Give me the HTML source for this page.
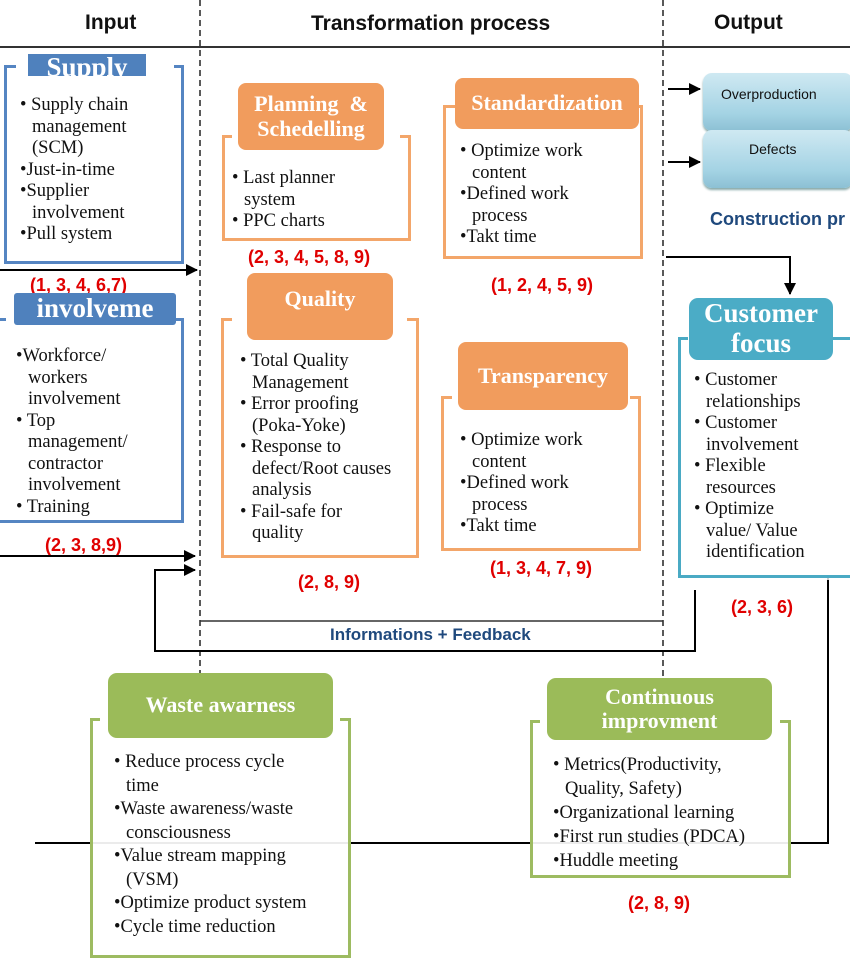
<!DOCTYPE html>
<html><head><meta charset="utf-8">
<style>
*{margin:0;padding:0;box-sizing:border-box}
body{width:850px;height:952px;position:relative;background:#fff;overflow:hidden;font-family:"Liberation Serif",serif}
.a{position:absolute}
.h{font-family:"Liberation Sans",sans-serif;font-weight:bold;font-size:21px;color:#111}
.red{font-family:"Liberation Sans",sans-serif;font-weight:bold;font-size:18px;color:#e00000;white-space:nowrap}
.t{font-size:18.5px;line-height:21.5px;color:#111;white-space:nowrap}
.t p{padding-left:16px;text-indent:-12px}
.blue{border:3px solid #5585c2}
.org{border:3px solid #f3a66a}
.grn{border:3px solid #9dbb61}
.teal{border:3px solid #4aaac4}
.tab{color:#fff;font-weight:bold;text-align:center;display:flex;align-items:center;justify-content:center;line-height:1.1}
.ot{background:#f19c5d;border-radius:8px;font-size:22px}
.gt{background:#9bbb59;border-radius:9px;font-size:22px}
.tt{background:#4bacc6;border-radius:9px;font-size:27px}
.bt{background:#4f81bd;font-size:27px;overflow:hidden}
</style></head><body>
<svg class="a" style="left:0;top:0" width="850" height="952">
<defs><marker id="ar" markerWidth="12" markerHeight="12" refX="11" refY="6" orient="auto" markerUnits="userSpaceOnUse"><path d="M0,0L12,6L0,12z" fill="#000"/></marker></defs>
<line x1="0" y1="47" x2="850" y2="47" stroke="#333" stroke-width="2"/>
<line x1="200" y1="0" x2="200" y2="690" stroke="#222" stroke-width="1.5" stroke-dasharray="6,4"/>
<line x1="663" y1="0" x2="663" y2="690" stroke="#222" stroke-width="1.5" stroke-dasharray="6,4"/>
<line x1="200" y1="621" x2="663" y2="621" stroke="#333" stroke-width="1.5"/>
<line x1="0" y1="270" x2="197" y2="270" stroke="#000" stroke-width="2" marker-end="url(#ar)"/>
<line x1="0" y1="556" x2="195" y2="556" stroke="#000" stroke-width="2" marker-end="url(#ar)"/>
<polyline points="695,590 695,651 155,651 155,570 195,570" fill="none" stroke="#000" stroke-width="2" marker-end="url(#ar)"/>
<line x1="668" y1="89" x2="700" y2="89" stroke="#000" stroke-width="2" marker-end="url(#ar)"/>
<line x1="668" y1="162" x2="700" y2="162" stroke="#000" stroke-width="2" marker-end="url(#ar)"/>
<polyline points="666,257 790,257 790,294" fill="none" stroke="#000" stroke-width="2" marker-end="url(#ar)"/>
<polyline points="35,843 828,843 828,580" fill="none" stroke="#000" stroke-width="2"/>
<line x1="828" y1="580" x2="828" y2="546" stroke="#ccc" stroke-width="2"/>
<path d="M823,552L828,542L833,552z" fill="#ddd"/>
</svg>
<div class="a h" style="left:85px;top:11px">Input</div>
<div class="a h" style="left:311px;top:12px">Transformation process</div>
<div class="a h" style="left:714px;top:11px">Output</div>

<!-- Supply -->
<div class="a blue" style="left:4px;top:65px;width:180px;height:199px;background:#fff"></div>
<div class="a" style="left:16px;top:60px;width:158px;height:10px;background:#fff"></div>
<div class="a tab bt" style="left:28px;top:54px;width:118px;height:22px"><span style="margin-top:6px">Supply</span></div>
<div class="a t" style="left:16px;top:95px">
<p>• Supply chain<br>management<br>(SCM)</p><p>•Just-in-time</p><p>•Supplier<br>involvement</p><p>•Pull system</p></div>
<div class="a red" style="left:30px;top:275px">(1, 3, 4, 6,7)</div>

<!-- Involvement -->
<div class="a blue" style="left:-3px;top:318px;width:187px;height:205px;background:#fff"></div>
<div class="a" style="left:6px;top:313px;width:170px;height:10px;background:#fff"></div>
<div class="a tab bt" style="left:14px;top:293px;width:162px;height:32px;border-radius:3px">involveme</div>
<div class="a t" style="left:12px;top:346px">
<p>•Workforce/<br>workers<br>involvement</p><p>• Top<br>management/<br>contractor<br>involvement</p><p>• Training</p></div>
<div class="a red" style="left:45px;top:535px">(2, 3, 8,9)</div>

<!-- Planning -->
<div class="a org" style="left:222px;top:135px;width:189px;height:106px;background:#fff"></div>
<div class="a" style="left:232px;top:130px;width:168px;height:10px;background:#fff"></div>
<div class="a tab ot" style="left:238px;top:83px;width:146px;height:67px">Planning &nbsp;&amp;<br>Schedelling</div>
<div class="a t" style="left:228px;top:168px"><p>• Last planner<br>system</p><p>• PPC charts</p></div>
<div class="a red" style="left:248px;top:247px">(2, 3, 4, 5, 8, 9)</div>

<!-- Standardization -->
<div class="a org" style="left:443px;top:105px;width:200px;height:154px;background:#fff"></div>
<div class="a tab ot" style="left:455px;top:78px;width:184px;height:51px">Standardization</div>
<div class="a t" style="left:456px;top:141px"><p>• Optimize work<br>content</p><p>•Defined work<br>process</p><p>•Takt time</p></div>
<div class="a red" style="left:491px;top:275px">(1, 2, 4, 5, 9)</div>

<!-- Quality -->
<div class="a org" style="left:221px;top:318px;width:198px;height:240px;background:#fff"></div>
<div class="a" style="left:232px;top:313px;width:175px;height:10px;background:#fff"></div>
<div class="a tab ot" style="left:247px;top:273px;width:146px;height:67px"><span style="margin-top:-14px">Quality</span></div>
<div class="a t" style="left:236px;top:351px"><p>• Total Quality<br>Management</p><p>• Error proofing<br>(Poka-Yoke)</p><p>• Response to<br>defect/Root causes<br>analysis</p><p>• Fail-safe for<br>quality</p></div>
<div class="a red" style="left:298px;top:572px">(2, 8, 9)</div>

<!-- Transparency -->
<div class="a org" style="left:441px;top:396px;width:200px;height:155px;background:#fff"></div>
<div class="a" style="left:452px;top:391px;width:178px;height:10px;background:#fff"></div>
<div class="a tab ot" style="left:458px;top:342px;width:170px;height:68px">Transparency</div>
<div class="a t" style="left:456px;top:430px"><p>• Optimize work<br>content</p><p>•Defined work<br>process</p><p>•Takt time</p></div>
<div class="a red" style="left:490px;top:558px">(1, 3, 4, 7, 9)</div>

<div class="a" style="left:330px;top:625px;font-family:'Liberation Sans',sans-serif;font-weight:bold;font-size:17px;color:#1f497d">Informations + Feedback</div>

<!-- Output -->
<div class="a" style="left:703px;top:73px;width:150px;height:58px;border-radius:9px;background:linear-gradient(180deg,#cfe9f2,#a4d3e4 70%,#8cc0d4);box-shadow:0 2px 2px #8aa"></div>
<div class="a" style="left:703px;top:130px;width:150px;height:58px;border-radius:9px;background:linear-gradient(180deg,#cfe9f2,#a4d3e4 70%,#8cc0d4);box-shadow:0 2px 2px #8aa"></div>
<div class="a" style="left:721px;top:86px;font-family:'Liberation Sans',sans-serif;font-size:14px;color:#111">Overproduction</div>
<div class="a" style="left:749px;top:141px;font-family:'Liberation Sans',sans-serif;font-size:14px;color:#111">Defects</div>
<div class="a" style="left:710px;top:209px;font-family:'Liberation Sans',sans-serif;font-weight:bold;font-size:18px;color:#1f497d;white-space:nowrap">Construction pr</div>

<!-- Customer -->
<div class="a teal" style="left:678px;top:337px;width:180px;height:241px;background:#fff"></div>
<div class="a" style="left:688px;top:332px;width:145px;height:10px;background:#fff"></div>
<div class="a tab tt" style="left:689px;top:298px;width:144px;height:62px">Customer<br>focus</div>
<div class="a t" style="left:690px;top:370px"><p>• Customer<br>relationships</p><p>• Customer<br>involvement</p><p>• Flexible<br>resources</p><p>• Optimize<br>value/ Value<br>identification</p></div>
<div class="a red" style="left:731px;top:597px">(2, 3, 6)</div>

<!-- Waste -->
<div class="a grn" style="left:90px;top:718px;width:261px;height:240px;background:rgba(255,255,255,0.92)"></div>
<div class="a" style="left:100px;top:713px;width:240px;height:10px;background:#fff"></div>
<div class="a tab gt" style="left:108px;top:673px;width:225px;height:65px">Waste awarness</div>
<div class="a t" style="left:110px;top:751px;line-height:23.5px"><p>• Reduce process cycle<br>time</p><p>•Waste awareness/waste<br>consciousness</p><p>•Value stream mapping<br>(VSM)</p><p>•Optimize product system</p><p>•Cycle time reduction</p></div>

<!-- Continuous -->
<div class="a grn" style="left:530px;top:720px;width:261px;height:158px;background:rgba(255,255,255,0.92)"></div>
<div class="a" style="left:540px;top:715px;width:240px;height:10px;background:#fff"></div>
<div class="a tab gt" style="left:547px;top:678px;width:225px;height:62px">Continuous<br>improvment</div>
<div class="a t" style="left:549px;top:753px;line-height:24px"><p>• Metrics(Productivity,<br>Quality, Safety)</p><p>•Organizational learning</p><p>•First run studies (PDCA)</p><p>•Huddle meeting</p></div>
<div class="a red" style="left:628px;top:893px">(2, 8, 9)</div>
</body></html>
